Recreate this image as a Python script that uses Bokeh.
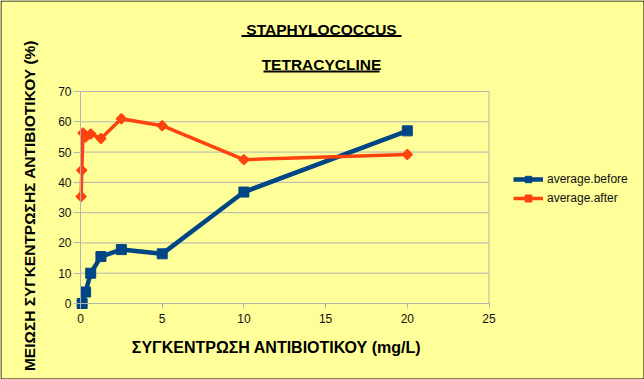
from bokeh.plotting import figure
from bokeh.models import Range1d, FixedTicker, Label, BoxAnnotation, Legend, LegendItem
from bokeh.embed import file_html
from bokeh.resources import INLINE
import math

# ---- data ----
before_x = [0.1, 0.3125, 0.625, 1.25, 2.5, 5, 10, 20]
before_y = [0.0, 3.8, 10.0, 15.5, 17.8, 16.4, 36.8, 57.0]
after_x = [0.04, 0.078, 0.156, 0.3125, 0.625, 1.25, 2.5, 5, 10, 20]
after_y = [35.3, 44.0, 56.3, 55.0, 56.0, 54.5, 61.0, 58.7, 47.5, 49.2]
x_ticks = [0, 5, 10, 15, 20, 25]
y_ticks = [0, 10, 20, 30, 40, 50, 60, 70]
title1 = "STAPHYLOCOCCUS"
title2 = "TETRACYCLINE"
x_title = "ΣΥΓΚΕΝΤΡΩΣΗ ΑΝΤΙΒΙΟΤΙΚΟΥ (mg/L)"
y_title = "ΜΕΙΩΣΗ ΣΥΓΚΕΝΤΡΩΣΗΣ ΑΝΤΙΒΙΟΤΙΚΟΥ (%)"

# ---- layout (pixels) ----
W, H = 644, 379
X0_PX, XMAX_PX = 80.0, 488.5   # pixel columns of the x axis ends
Y0_PX, YMAX_PX = 303.0, 91.0   # pixel rows of the y axis ends
BG = "#ffff99"
FONT = "Liberation Sans"
BLUE = "#004586"
RED = "#ff420e"
GRID = "#b3b3b3"

x_lo, x_hi = x_ticks[0], x_ticks[-1]
y_lo, y_hi = y_ticks[0], y_ticks[-1]
kx = (XMAX_PX - X0_PX) / (x_hi - x_lo)
ky = (Y0_PX - YMAX_PX) / (y_hi - y_lo)
x_range = Range1d(x_lo - X0_PX / kx, x_lo + (W - X0_PX) / kx)
y_range = Range1d(y_lo - (H - Y0_PX) / ky, y_lo + Y0_PX / ky)

p = figure(width=W, height=H, output_backend="svg", toolbar_location=None,
           x_range=x_range, y_range=y_range,
           min_border=0, min_border_left=0, min_border_right=0,
           min_border_top=0, min_border_bottom=0,
           background_fill_color=BG, border_fill_color=BG)
p.title.visible = False
p.outline_line_color = None
p.xgrid.grid_line_color = None
p.ygrid.grid_line_color = None

p.xaxis.ticker = FixedTicker(ticks=x_ticks)
p.yaxis.ticker = FixedTicker(ticks=y_ticks)
p.xaxis.fixed_location = y_lo
p.yaxis.fixed_location = x_lo
p.xaxis.bounds = (x_lo, x_hi)
p.yaxis.bounds = (y_lo, y_hi)
for ax in (p.xaxis, p.yaxis):
    ax.axis_line_color = GRID
    ax.major_tick_line_color = GRID
    ax.minor_tick_line_color = None
    ax.major_tick_in = 0
    ax.major_label_text_font = FONT
    ax.major_label_text_font_size = "12px"
    ax.major_label_text_color = "#111111"
p.xaxis.major_tick_out = 5
p.xaxis.major_label_standoff = 5
p.yaxis.major_tick_out = 7
p.yaxis.major_label_standoff = 2

# plot-wall grid lines and right edge
p.segment(x0=[x_lo] * len(y_ticks), x1=[x_hi] * len(y_ticks), y0=y_ticks, y1=y_ticks,
          line_color=GRID, line_width=1)
p.segment(x0=[x_hi], x1=[x_hi], y0=[y_lo], y1=[y_hi], line_color=GRID, line_width=1)

l1 = p.line(before_x, before_y, line_color=BLUE, line_width=4.5)
s1 = p.scatter(before_x, before_y, marker="square", size=10, fill_color=BLUE, line_color=BLUE)
l2 = p.line(after_x, after_y, line_color=RED, line_width=3.5)
s2 = p.scatter(after_x, after_y, marker="square", angle=math.pi / 4, size=7,
               fill_color=RED, line_color=RED, line_width=1.5)

def sy(py):
    return H - py

legend = Legend(items=[LegendItem(label="average.before", renderers=[l1, s1]),
                       LegendItem(label="average.after", renderers=[l2, s2])],
                location=(513, sy(206)), padding=0, margin=0, spacing=3,
                glyph_width=30, glyph_height=16, label_height=16, label_standoff=4,
                label_text_font=FONT, label_text_font_size="12px", label_text_color="#111111",
                background_fill_alpha=0, border_line_color=None)
p.add_layout(legend)

def label(text, x, y, size, angle=0):
    p.add_layout(Label(text=text, x=x, y=sy(y), x_units="screen", y_units="screen",
                       text_align="center", text_baseline="alphabetic", angle=angle,
                       text_font=FONT, text_font_size=size, text_font_style="bold",
                       text_color="black"))

label(title1, 321, 28.5, "15.5px")
label(title2, 321, 63.5, "15.5px")
label(x_title, 276, 347, "16px")
label(y_title, 29, 205, "15.5px", angle=math.pi / 2)

def box(x0, x1, y0, y1, fill=None, line=None):
    p.add_layout(BoxAnnotation(left=x0, right=x1, top=sy(y0), bottom=sy(y1),
                               left_units="screen", right_units="screen",
                               top_units="screen", bottom_units="screen",
                               fill_color=fill if fill else BG, fill_alpha=1 if fill else 0,
                               line_color=line if line else BG, line_alpha=1 if line else 0,
                               line_width=1))

box(241, 401, 34.5, 36.5, fill="black")
box(263, 379, 70, 72, fill="black")
box(0.5, W - 0.5, 0.5, H - 0.5, line="black")

open("out.html", "w").write(file_html(p, INLINE))
